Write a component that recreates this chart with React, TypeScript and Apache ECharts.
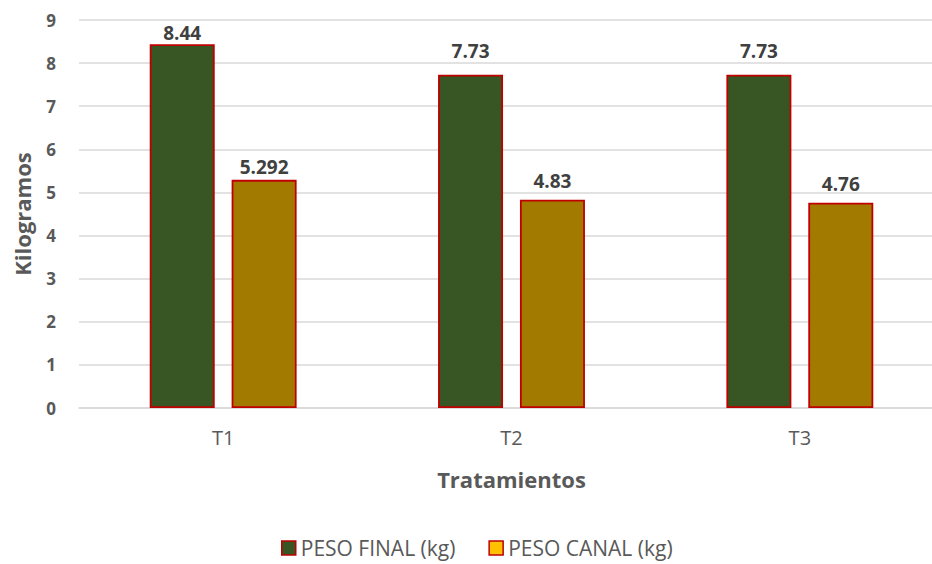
import React, { useEffect, useRef } from "react";
import * as echarts from "echarts";

const categories = ["T1", "T2", "T3"];
const pesoFinal = [8.44, 7.73, 7.73];
const pesoCanal = [5.292, 4.83, 4.76];
const seriesNames = ["PESO FINAL (kg)", "PESO CANAL (kg)"];
const labelTexts = [["8.44", "7.73", "7.73"], ["5.292", "4.83", "4.76"]];
const labelLift = [[2, 14, 14], [3, 9, 9]];

const FONT = "'Open Sans', 'Noto Sans', sans-serif";

export default function App() {
  const ref = useRef<HTMLDivElement>(null);
  useEffect(() => {
    if (!ref.current) return;
    const chart = echarts.init(ref.current, null, { renderer: "svg" });
    const mk = (vals: number[], si: number) =>
      vals.map((v, i) => ({
        value: v,
        label: { distance: labelLift[si][i], formatter: labelTexts[si][i] },
      }));
    const labelStyle = {
      show: true,
      position: "top",
      fontFamily: FONT,
      fontWeight: "bold",
      fontSize: 19,
      color: "#404040",
    };
    chart.setOption({
      animation: false,
      backgroundColor: "#ffffff",
      textStyle: { fontFamily: FONT },
      grid: { left: 79, top: 20, width: 865, height: 388, outerBoundsMode: "none", containLabel: false },
      legend: {
        top: 537,
        left: 281,
        padding: 0,
        icon: "rect",
        itemWidth: 14,
        itemHeight: 14,
        itemGap: 33,
        textStyle: { fontFamily: FONT, fontSize: 21, color: "#595959", lineHeight: 22 },
        data: [
          { name: seriesNames[0], itemStyle: { color: "#375623", borderColor: "#c00000", borderWidth: 1.5 } },
          { name: seriesNames[1], itemStyle: { color: "#ffc000", borderColor: "#c00000", borderWidth: 1.5 } },
        ],
      },
      xAxis: {
        type: "category",
        data: categories,
        name: "Tratamientos",
        nameLocation: "middle",
        nameGap: 60,
        nameTextStyle: { fontFamily: FONT, fontWeight: "bold", fontSize: 22, color: "#595959" },
        axisLine: { lineStyle: { color: "#d9d9d9", width: 1.5 } },
        axisTick: { show: false },
        axisLabel: { fontFamily: FONT, fontSize: 20, color: "#595959", margin: 19 },
      },
      yAxis: {
        type: "value",
        min: 0,
        max: 9,
        interval: 1,
        name: "Kilogramos",
        nameLocation: "middle",
        nameGap: 46,
        nameTextStyle: { fontFamily: FONT, fontWeight: "bold", fontSize: 22, color: "#595959" },
        axisLine: { show: false },
        axisTick: { show: false },
        splitLine: { lineStyle: { color: "#d9d9d9", width: 1.5 } },
        axisLabel: { fontFamily: FONT, fontWeight: "bold", fontSize: 17, color: "#595959", margin: 23 },
      },
      series: [
        {
          name: seriesNames[0],
          type: "bar",
          data: mk(pesoFinal, 0),
          barWidth: 65,
          barGap: "26%",
          itemStyle: { color: "#375623", borderColor: "#c00000", borderWidth: 1.8 },
          label: labelStyle,
        },
        {
          name: seriesNames[1],
          type: "bar",
          data: mk(pesoCanal, 1),
          barWidth: 65,
          barGap: "26%",
          itemStyle: { color: "#a37a00", borderColor: "#c00000", borderWidth: 1.8 },
          label: labelStyle,
        },
      ],
    });
    return () => chart.dispose();
  }, []);
  return (
    <div
      ref={ref}
      style={{ position: "fixed", left: 0, top: 0, width: 932, height: 564 }}
    />
  );
}
